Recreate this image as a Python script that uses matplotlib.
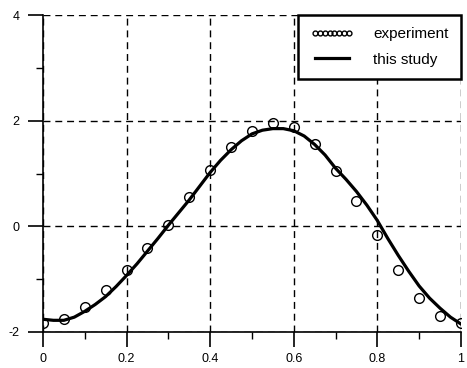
import matplotlib
matplotlib.use("Agg")
import matplotlib.pyplot as plt
import numpy as np
from matplotlib.ticker import MultipleLocator

plt.rcParams['font.family'] = ['Liberation Sans', 'DejaVu Sans']

x_exp = [0.0, 0.05, 0.1, 0.15, 0.2, 0.25, 0.3, 0.35, 0.4, 0.45, 0.5,
         0.55, 0.6, 0.65, 0.7, 0.75, 0.8, 0.85, 0.9, 0.95, 1.0]
y_exp = [-1.84, -1.76, -1.53, -1.21, -0.83, -0.42, 0.02, 0.55, 1.06, 1.5, 1.8,
         1.95, 1.88, 1.55, 1.05, 0.48, -0.17, -0.83, -1.35, -1.69, -1.84]

x_fit = [0.0, 0.025, 0.05, 0.075, 0.1, 0.125, 0.15, 0.175, 0.2, 0.225, 0.25,
         0.275, 0.3, 0.325, 0.35, 0.375, 0.4, 0.425, 0.45, 0.475, 0.5,
         0.525, 0.55, 0.575, 0.6, 0.625, 0.65, 0.675, 0.7, 0.725, 0.75,
         0.775, 0.8, 0.825, 0.85, 0.875, 0.9, 0.925, 0.95, 0.975, 1.0]
y_fit = [-1.76, -1.78, -1.78, -1.72, -1.61, -1.48, -1.33, -1.14, -0.93, -0.71, -0.47,
         -0.23, 0.02, 0.26, 0.5, 0.76, 1.02, 1.25, 1.45, 1.62, 1.75,
         1.82, 1.85, 1.85, 1.81, 1.71, 1.55, 1.35, 1.1, 0.89, 0.66,
         0.4, 0.11, -0.23, -0.55, -0.85, -1.13, -1.36, -1.55, -1.72, -1.85]

xticks = [0, 0.2, 0.4, 0.6, 0.8, 1]
xticklabels = ['0', '0.2', '0.4', '0.6', '0.8', '1']
yticks = [-2, 0, 2, 4]
yticklabels = ['-2', '0', '2', '4']

fig = plt.figure(figsize=(4.67, 3.68), dpi=100)
ax = fig.add_axes([0.092, 0.098, 0.895, 0.861])

ax.plot(x_exp, y_exp, linestyle='none', marker='o', markersize=7,
        markerfacecolor='none', markeredgecolor='black', markeredgewidth=1.0,
        label='experiment', zorder=3)
ax.plot(x_fit, y_fit, color='black', linewidth=2.3, label='this study', zorder=4)

ax.set_xlim(0, 1)
ax.set_ylim(-2, 4)
ax.set_xticks(xticks)
ax.set_xticklabels(xticklabels)
ax.set_yticks(yticks)
ax.set_yticklabels(yticklabels)
ax.xaxis.set_minor_locator(MultipleLocator(0.1))
ax.yaxis.set_minor_locator(MultipleLocator(1))

ax.grid(True, which='major', color='black', linestyle=(0, (5, 3.5)), linewidth=1.0)
for s in ['top', 'right']:
    ax.spines[s].set_visible(False)
for s in ['left', 'bottom']:
    ax.spines[s].set_linewidth(1.2)

ax.tick_params(axis='both', which='major', direction='out', length=11, width=1.2,
               labelsize=9)
ax.tick_params(axis='both', which='minor', direction='out', length=5, width=1.0)
ax.tick_params(axis='x', which='major', pad=4)
ax.tick_params(axis='y', which='major', pad=6)

leg = ax.legend(loc='upper right', frameon=True, fancybox=False, fontsize=11,
                numpoints=8, markerscale=0.5, handlelength=2.8, handletextpad=1.3,
                borderaxespad=0.0, borderpad=0.8, labelspacing=0.75,
                bbox_to_anchor=(1.0, 1.0))
leg.get_frame().set_edgecolor('black')
leg.get_frame().set_linewidth(1.8)
leg.get_frame().set_alpha(1.0)

fig.savefig('out.png', dpi=100)
